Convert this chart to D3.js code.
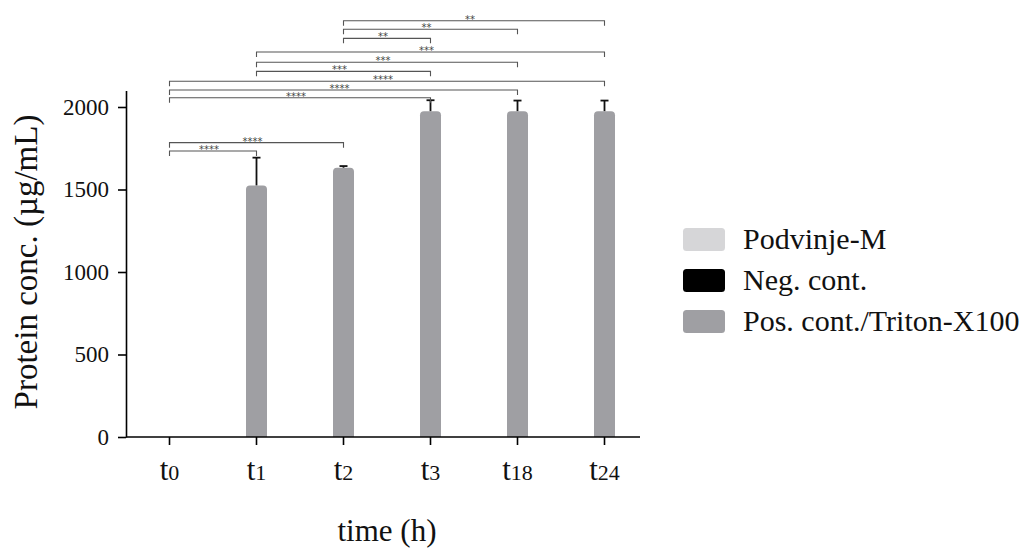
<!DOCTYPE html>
<html>
<head>
<meta charset="utf-8">
<script src="https://cdn.jsdelivr.net/npm/d3@7"></script>
<style>
    html, body { margin: 0; padding: 0; background: #fff; }
    svg { display: block; font-family: 'Liberation Serif', 'Times New Roman', serif; }
</style>
</head>
<body>
<svg id="chart" width="1026" height="549"></svg>
<script>
(function(){
    'use strict';

    // time points, label is "t" + subscript-ish number
    var timePoints = [ '0', '1', '2', '3', '18', '24' ];

    var seriesNames = [ 'Podvinje-M', 'Neg. cont.', 'Pos. cont./Triton-X100' ];
    var seriesColors = [ '#d6d6d8', '#000000', '#9f9fa3' ];

    var podvinje = [ 0, 0, 0, 0, 0, 0 ];
    var negCont = [ 0, 0, 0, 0, 0, 0 ];
    var posCont = [ 0, 1525, 1632, 1975, 1975, 1975 ];
    var posErr = [ 0, 168, 10, 66, 64, 64 ];

    var yTicks = [ 0, 500, 1000, 1500, 2000 ];

    // significance brackets: from/to index, level in data units, stars
    var brackets = [
        { from: 2, to: 5, level: 2523, label: '**' },
        { from: 2, to: 4, level: 2471, label: '**' },
        { from: 2, to: 3, level: 2416, label: '**' },
        { from: 1, to: 5, level: 2333, label: '***' },
        { from: 1, to: 4, level: 2271, label: '***' },
        { from: 1, to: 3, level: 2216, label: '***' },
        { from: 0, to: 5, level: 2156, label: '****' },
        { from: 0, to: 4, level: 2103, label: '****' },
        { from: 0, to: 3, level: 2056, label: '****' },
        { from: 0, to: 2, level: 1784, label: '****' },
        { from: 0, to: 1, level: 1733, label: '****' }
    ];

    var box = {
        left: 126,
        right: 648,
        axisEnd: 640,
        top: 90.5,
        bottom: 437
    };

    var svg = d3.select( '#chart' );

    var x = d3.scaleBand()
        .domain( timePoints )
        .range( [ box.left, box.right ] )
        .padding( 0 );

    var y = d3.scaleLinear()
        .domain( [ 0, 2100 ] )
        .range( [ box.bottom, box.top ] );

    function cx( t ){
        return x( t ) + x.bandwidth() / 2;
    }

    var barW = 21;

    function barPath( xc, v ){
        var x0 = xc - barW / 2,
            x1 = xc + barW / 2,
            y0 = y( 0 ),
            y1 = y( v ),
            r = Math.min( 4, ( y0 - y1 ) / 2 );

        if ( v <= 0 ){
            return '';
        }

        return 'M' + x0 + ',' + y0 +
            'V' + ( y1 + r ) +
            'Q' + x0 + ',' + y1 + ' ' + ( x0 + r ) + ',' + y1 +
            'H' + ( x1 - r ) +
            'Q' + x1 + ',' + y1 + ' ' + x1 + ',' + ( y1 + r ) +
            'V' + y0 + 'Z';
    }

    var seriesData = [ podvinje, negCont, posCont ];

    // bars (zero-valued series draw nothing)
    seriesData.forEach(function( values, si ){
        svg.append( 'g' )
            .attr( 'class', 'series' )
            .selectAll( 'path' )
            .data( values )
            .enter().append( 'path' )
            .attr( 'd', function( d, i ){ return barPath( cx( timePoints[i] ), d ); } )
            .attr( 'fill', seriesColors[si] );
    });

    // error bars, positive only
    var err = svg.append( 'g' ).attr( 'class', 'errors' )
        .selectAll( 'g' )
        .data( posCont.map(function( v, i ){ return { v: v, e: posErr[i], t: timePoints[i] }; }).filter(function( d ){ return d.v > 0; }) )
        .enter().append( 'g' );

    err.append( 'line' )
        .attr( 'x1', function( d ){ return cx( d.t ); } )
        .attr( 'x2', function( d ){ return cx( d.t ); } )
        .attr( 'y1', function( d ){ return y( d.v ); } )
        .attr( 'y2', function( d ){ return y( d.v + d.e ); } )
        .attr( 'stroke', '#111' )
        .attr( 'stroke-width', 1.8 );

    err.append( 'line' )
        .attr( 'x1', function( d ){ return cx( d.t ) - 4; } )
        .attr( 'x2', function( d ){ return cx( d.t ) + 4; } )
        .attr( 'y1', function( d ){ return y( d.v + d.e ); } )
        .attr( 'y2', function( d ){ return y( d.v + d.e ); } )
        .attr( 'stroke', '#111' )
        .attr( 'stroke-width', 1.8 );

    // y axis
    var yAxis = svg.append( 'g' )
        .attr( 'transform', 'translate(' + box.left + ',0)' )
        .call( d3.axisLeft( y ).tickValues( yTicks ).tickFormat( d3.format( 'd' ) )
            .tickSize( 8 ).tickPadding( 9 ).tickSizeOuter( 0 ) )
        .attr( 'font-family', 'Liberation Serif' )
        .attr( 'font-size', 23 );

    yAxis.select( '.domain' ).attr( 'stroke-width', 1.6 );
    yAxis.selectAll( '.tick line' ).attr( 'stroke-width', 1.6 );
    yAxis.selectAll( 'text' ).attr( 'fill', '#111' );

    // x axis, the line stops a bit before the last band end
    svg.append( 'line' )
        .attr( 'x1', box.left )
        .attr( 'x2', box.axisEnd )
        .attr( 'y1', box.bottom )
        .attr( 'y2', box.bottom )
        .attr( 'stroke', '#000' )
        .attr( 'stroke-width', 1.6 );

    var xt = svg.append( 'g' ).attr( 'class', 'x-ticks' )
        .selectAll( 'g' )
        .data( timePoints )
        .enter().append( 'g' )
        .attr( 'transform', function( d ){ return 'translate(' + cx( d ) + ',' + box.bottom + ')'; } );

    xt.append( 'line' )
        .attr( 'y2', 8 )
        .attr( 'stroke', '#000' )
        .attr( 'stroke-width', 1.6 );

    var lbl = xt.append( 'text' )
        .attr( 'y', 43 )
        .attr( 'text-anchor', 'middle' )
        .attr( 'fill', '#111' );
    lbl.append( 'tspan' ).attr( 'font-size', 31 ).text( 't' );
    lbl.append( 'tspan' ).attr( 'font-size', 22 ).text( function( d ){ return d; } );

    // axis titles
    svg.append( 'text' )
        .attr( 'transform', 'translate(37,' + 262 + ') rotate(-90)' )
        .attr( 'text-anchor', 'middle' )
        .attr( 'font-size', 33 )
        .attr( 'fill', '#111' )
        .text( 'Protein conc. (µg/mL)' );

    svg.append( 'text' )
        .attr( 'x', 387 )
        .attr( 'y', 541 )
        .attr( 'text-anchor', 'middle' )
        .attr( 'font-size', 31 )
        .attr( 'fill', '#111' )
        .text( 'time (h)' );

    // significance brackets
    var br = svg.append( 'g' ).attr( 'class', 'brackets' )
        .selectAll( 'g' )
        .data( brackets )
        .enter().append( 'g' );

    br.append( 'path' )
        .attr( 'd', function( d ){
            var a = cx( timePoints[d.from] ),
                b = cx( timePoints[d.to] ),
                yy = y( d.level );
            return 'M' + a + ',' + ( yy + 5 ) + 'V' + yy + 'H' + b + 'V' + ( yy + 5 );
        })
        .attr( 'fill', 'none' )
        .attr( 'stroke', '#555' )
        .attr( 'stroke-width', 1.1 );

    br.append( 'text' )
        .attr( 'x', function( d ){ return ( cx( timePoints[d.from] ) + cx( timePoints[d.to] ) ) / 2 - 4; } )
        .attr( 'y', function( d ){ return y( d.level ) + 2; } )
        .attr( 'text-anchor', 'middle' )
        .attr( 'font-size', 10 )
        .attr( 'font-family', 'DejaVu Sans' )
        .attr( 'fill', '#444' )
        .text( function( d ){ return d.label; } );

    // legend
    var lg = svg.append( 'g' ).attr( 'class', 'legend' )
        .selectAll( 'g' )
        .data( seriesNames )
        .enter().append( 'g' )
        .attr( 'transform', function( d, i ){ return 'translate(683,' + ( 228 + i * 41 ) + ')'; } );

    lg.append( 'rect' )
        .attr( 'width', 42 )
        .attr( 'height', 23 )
        .attr( 'rx', 3.5 )
        .attr( 'fill', function( d, i ){ return seriesColors[i]; } );

    lg.append( 'text' )
        .attr( 'x', 60 )
        .attr( 'y', 21 )
        .attr( 'font-size', 30 )
        .attr( 'fill', '#111' )
        .text( function( d ){ return d; } );
})();
</script>
</body>
</html>
